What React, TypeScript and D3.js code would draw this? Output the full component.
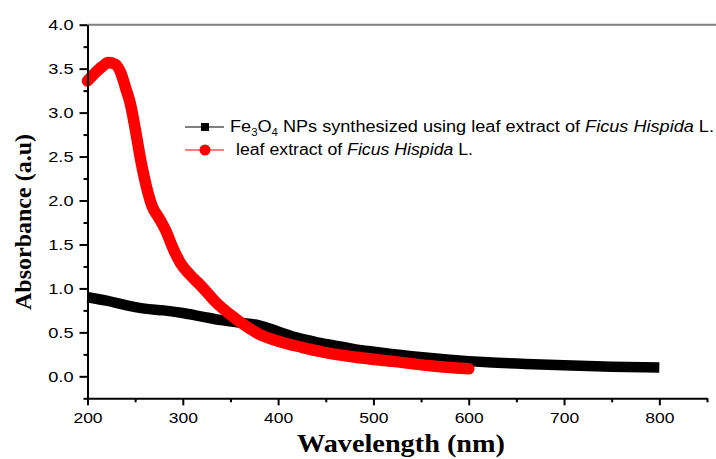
import React, { useEffect, useRef } from "react";
import * as d3 from "d3";

// leaf extract of Ficus Hispida L. (red)
const extractWl = [200, 207, 215, 222, 229, 235, 240, 245, 250, 256, 262, 268, 275, 282, 290, 298, 308, 320, 335, 350, 365, 380, 400, 425, 450, 480, 520, 560, 600];
const extractAbs = [3.36, 3.44, 3.52, 3.57, 3.55, 3.45, 3.28, 3.1, 2.82, 2.45, 2.15, 1.93, 1.8, 1.66, 1.45, 1.28, 1.15, 1.02, 0.84, 0.7, 0.58, 0.48, 0.4, 0.33, 0.27, 0.22, 0.17, 0.12, 0.085];

// Fe3O4 NPs (black)
const npWl = [200, 220, 240, 260, 280, 300, 320, 340, 360, 380, 400, 420, 440, 460, 480, 500, 540, 580, 620, 660, 700, 750, 800];
const npAbs = [0.9, 0.86, 0.81, 0.77, 0.75, 0.72, 0.68, 0.64, 0.61, 0.58, 0.51, 0.44, 0.39, 0.35, 0.31, 0.28, 0.23, 0.19, 0.16, 0.14, 0.125, 0.11, 0.1];

const xTicks = [200, 300, 400, 500, 600, 700, 800];
const xMinor = [250, 350, 450, 550, 650, 750, 850];
const yTicks = [0, 0.5, 1, 1.5, 2, 2.5, 3, 3.5, 4];
const yMinor = [-0.25, 0.25, 0.75, 1.25, 1.75, 2.25, 2.75, 3.25, 3.75];

const W = 716;
const H = 459;
const sans = "'Liberation Sans', Arial, sans-serif";
const serif = "'Liberation Serif', 'Times New Roman', serif";

export default function App() {
  const svgRef = useRef<SVGSVGElement>(null);

  useEffect(() => {
    if (!svgRef.current) return;
    const svg = d3.select(svgRef.current);
    svg.selectAll("*").remove();

    const x = d3.scaleLinear().domain([200, 850]).range([87.5, 707]);
    const y = d3.scaleLinear().domain([-0.25, 4]).range([398.3, 24.7]);

    // top frame line (grey)
    svg.append("line")
      .attr("x1", 87.5).attr("x2", W)
      .attr("y1", y(4)).attr("y2", y(4))
      .attr("stroke", "#808080").attr("stroke-width", 2);

    // curves
    const line = d3.line<[number, number]>()
      .x((d) => x(d[0]))
      .y((d) => y(d[1]))
      .curve(d3.curveMonotoneX);

    svg.append("path")
      .attr("d", line(npWl.map((w, i) => [w, npAbs[i]])))
      .attr("fill", "none")
      .attr("stroke", "#000")
      .attr("stroke-width", 10.5)
      .attr("stroke-linejoin", "round");

    svg.append("path")
      .attr("d", line(extractWl.map((w, i) => [w, extractAbs[i]])))
      .attr("fill", "none")
      .attr("stroke", "#ff0000")
      .attr("stroke-width", 11.5)
      .attr("stroke-linecap", "round")
      .attr("stroke-linejoin", "round");

    // axes
    const styleAxis = (g: d3.Selection<SVGGElement, unknown, null, undefined>) => {
      g.select(".domain").attr("stroke", "#000").attr("stroke-width", 2);
      g.selectAll(".tick line").attr("stroke", "#000").attr("stroke-width", 2);
      g.selectAll("text")
        .attr("font-family", sans)
        .attr("font-size", 14)
        .attr("fill", "#000");
    };

    const xAxis = svg.append("g")
      .attr("transform", `translate(0,${y(-0.25)})`)
      .call(d3.axisBottom(x).tickValues(xTicks).tickSize(7).tickSizeOuter(0).tickFormat(d3.format("d")));
    styleAxis(xAxis);
    xAxis.selectAll(".tick text")
      .attr("y", 0)
      .attr("dy", 0)
      .attr("transform", "translate(0,25) scale(1.25,1)");

    const xMin = svg.append("g")
      .attr("transform", `translate(0,${y(-0.25)})`)
      .call(d3.axisBottom(x).tickValues(xMinor).tickSize(4).tickFormat(() => ""));
    xMin.select(".domain").remove();
    xMin.selectAll(".tick line").attr("stroke", "#000").attr("stroke-width", 2);

    const yAxis = svg.append("g")
      .attr("transform", `translate(${x(200)},0)`)
      .call(d3.axisLeft(y).tickValues(yTicks).tickSize(8).tickSizeOuter(0).tickFormat(d3.format(".1f")));
    styleAxis(yAxis);
    yAxis.selectAll(".tick text")
      .attr("x", 0)
      .attr("dy", "0.35em")
      .attr("transform", "translate(-14,0) scale(1.3,1)");

    const yMin = svg.append("g")
      .attr("transform", `translate(${x(200)},0)`)
      .call(d3.axisLeft(y).tickValues(yMinor).tickSize(4).tickFormat(() => ""));
    yMin.select(".domain").remove();
    yMin.selectAll(".tick line").attr("stroke", "#000").attr("stroke-width", 2);

    // axis titles
    svg.append("text")
      .attr("x", 401)
      .attr("y", 452)
      .attr("text-anchor", "middle")
      .attr("font-family", serif)
      .attr("font-weight", "bold")
      .attr("font-size", 25)
      .attr("textLength", 208)
      .attr("lengthAdjust", "spacingAndGlyphs")
      .text("Wavelength (nm)");

    svg.append("text")
      .attr("transform", "translate(31,222) rotate(-90)")
      .attr("text-anchor", "middle")
      .attr("font-family", serif)
      .attr("font-weight", "bold")
      .attr("font-size", 23)
      .attr("textLength", 176)
      .attr("lengthAdjust", "spacingAndGlyphs")
      .text("Absorbance (a.u)");

    // legend
    const leg = svg.append("g");
    leg.append("line").attr("x1", 185).attr("x2", 224).attr("y1", 127).attr("y2", 127)
      .attr("stroke", "#000").attr("stroke-width", 1.2);
    leg.append("rect").attr("x", 201).attr("y", 123).attr("width", 8).attr("height", 8).attr("fill", "#000");
    leg.append("line").attr("x1", 185).attr("x2", 224).attr("y1", 150).attr("y2", 150)
      .attr("stroke", "#ff0000").attr("stroke-width", 1.2);
    leg.append("circle").attr("cx", 205).attr("cy", 150).attr("r", 5.5).attr("fill", "#ff0000");

    const t1 = leg.append("text")
      .attr("x", 230).attr("y", 132)
      .attr("font-family", sans).attr("font-size", 16)
      .attr("textLength", 484).attr("lengthAdjust", "spacingAndGlyphs");
    t1.append("tspan").text("Fe");
    t1.append("tspan").attr("font-size", 10).attr("dy", 4).text("3");
    t1.append("tspan").attr("dy", -4).text("O");
    t1.append("tspan").attr("font-size", 10).attr("dy", 4).text("4");
    t1.append("tspan").attr("dy", -4).text(" NPs synthesized using leaf extract of ");
    t1.append("tspan").attr("font-style", "italic").text("Ficus Hispida");
    t1.append("tspan").text(" L.");

    const t2 = leg.append("text")
      .attr("x", 236).attr("y", 155)
      .attr("font-family", sans).attr("font-size", 16)
      .attr("textLength", 237).attr("lengthAdjust", "spacingAndGlyphs");
    t2.append("tspan").text("leaf extract of ");
    t2.append("tspan").attr("font-style", "italic").text("Ficus Hispida");
    t2.append("tspan").text(" L.");
  }, []);

  return (
    <svg
      ref={svgRef}
      width={W}
      height={H}
      style={{ position: "absolute", left: 0, top: 0, background: "#fff" }}
    />
  );
}
